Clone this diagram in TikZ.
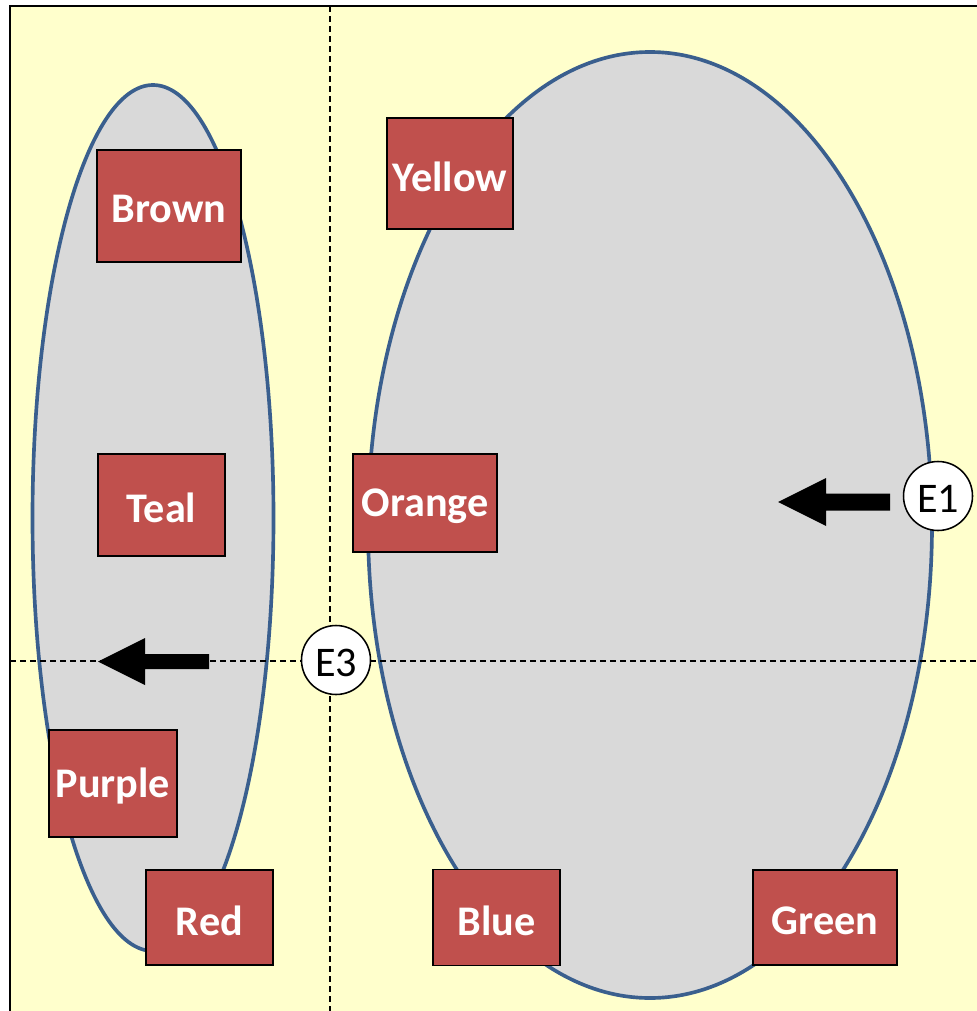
\documentclass[tikz,border=0pt]{standalone}
\usepackage{fontspec}
\setmainfont{Carlito}
\usetikzlibrary{shapes.geometric}
\definecolor{bgy}{HTML}{FFFFCC}
\definecolor{ellfill}{HTML}{D9D9D9}
\definecolor{elldraw}{HTML}{3A5F8E}
\definecolor{boxred}{HTML}{C0504D}
\newcommand\pxu{0.025cm}
\newcommand\lowtxt[1]{\raisebox{-0.075cm}[\height][\depth]{#1}}
\begin{document}
\begin{tikzpicture}[x=0.025cm,y=-0.025cm,
  blob/.style={ellipse, draw=elldraw, fill=ellfill, line width=2.6pt, inner sep=0pt},
  colbox/.style={rectangle, draw=black, fill=boxred, line width=1.3pt, inner sep=0pt,
    text=white, font=\fontsize{30}{32}\selectfont\bfseries},
  evt/.style={circle, draw=black, fill=white, line width=1.1pt, inner sep=0pt,
    minimum size=69*\pxu, font=\fontsize{30}{32}\selectfont},
  guide/.style={black, line width=1.1pt, dash pattern=on 6*\pxu off 4*\pxu},
  blockarrow/.style={fill=black}
]
\useasboundingbox (0,0) rectangle (977,1011);
\fill[bgy] (10,6) rectangle (1000,1030);
\draw[black, line width=1.6pt] (10,1030) -- (10,6) -- (1000,6);

% ellipses
\node[blob, minimum width=241*\pxu, minimum height=866*\pxu] (leftset) at (153,518) {};
\node[blob, minimum width=564*\pxu, minimum height=946*\pxu] (rightset) at (650,525) {};

% dashed guides
\coordinate (vtop) at (330,6);
\coordinate (vbot) at (330,1011);
\coordinate (hleft) at (10,661);
\coordinate (hright) at (977,661);
\draw[guide] (vtop) -- (vbot);
\draw[guide] (hleft) -- (hright);

% boxes
\node[colbox, minimum width=144*\pxu, minimum height=112*\pxu] (brown) at (169,206) {\lowtxt{Brown}};
\node[colbox, minimum width=126*\pxu, minimum height=111*\pxu] (yellow) at (450,173.5) {\lowtxt{Yellow}};
\node[colbox, minimum width=127*\pxu, minimum height=102*\pxu] (teal) at (161.5,505) {\lowtxt{Teal}};
\node[colbox, minimum width=144*\pxu, minimum height=98*\pxu] (orange) at (425,503) {\lowtxt{Orange}};
\node[colbox, minimum width=128*\pxu, minimum height=107*\pxu] (purple) at (113,783.5) {\lowtxt{Purple}};
\node[colbox, minimum width=127*\pxu, minimum height=95*\pxu] (red) at (209.5,917.5) {\lowtxt{Red}};
\node[colbox, minimum width=127*\pxu, minimum height=96*\pxu] (blue) at (496.5,917.5) {\lowtxt{Blue}};
\node[colbox, minimum width=144*\pxu, minimum height=95*\pxu] (green) at (825,917.5) {\lowtxt{Green}};

% block arrows
\coordinate (aone) at (778,502);
\fill[blockarrow] (aone) -- ++(48,-24) -- ++(0,15.5) -- ++(64,0) -- ++(0,17) -- ++(-64,0) -- ++(0,15.5) -- cycle;
\coordinate (athree) at (98,661.5);
\fill[blockarrow] (athree) -- ++(47,-23.5) -- ++(0,16) -- ++(64,0) -- ++(0,15) -- ++(-64,0) -- ++(0,16) -- cycle;

% event circles
\node[evt] (e1) at (938,496) {\lowtxt{E1}};
\node[evt] (e3) at (336,660) {\lowtxt{E3}};
\end{tikzpicture}
\end{document}
